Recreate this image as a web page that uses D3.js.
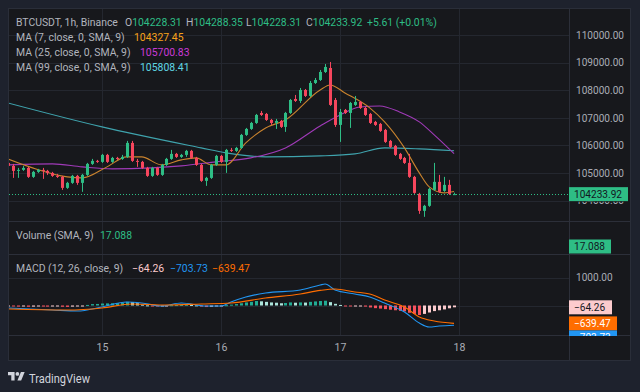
<!DOCTYPE html>
<html><head><meta charset="utf-8">
<script src="https://cdn.jsdelivr.net/npm/d3@7"></script>
<style>html,body{margin:0;padding:0;background:#1e222d;}svg{display:block}</style>
</head><body><svg id="c" width="640" height="392"></svg>
<script>
// ---------- DATA (hourly candles, first candle 2025-05-14 05:00 UTC) ----------
const firstCandle = "2025-05-14T05:00:00Z";
const opens = [105366,105258,105077,105113,105185,104860,105041,105113,105077,105004,104896,104860,104461,104642,104896,104642,104932,105330,105439,
105403,105656,105403,105547,105511,105584,106090,105439,105403,105185,104896,105185,104932,105294,105511,105692,105584,105656,105801,105547,
105294,104715,104823,105294,105620,105403,105837,105801,105909,106380,106597,106814,107176,107140,106923,106814,106887,106670,107176,107683,
107611,108009,107792,108262,108371,108661,108805,107647,106742,107285,107176,107466,107575,107357,107140,106851,106778,106561,106163,105982,
105692,105547,105366,104860,104244,103629,103810,104389,104679,104353,104570,104228.31];
const highs = [105439,105330,105185,105258,105222,105077,105149,105185,105113,105041,104968,104896,104679,104932,104932,104968,105366,105511,105475,
105692,105692,105584,105584,105656,106163,106163,105511,105439,105222,105222,105222,105330,105547,105837,105728,105692,105837,105837,105584,
105330,104860,105330,105656,105656,105873,105909,105946,106416,106633,106851,107140,107249,107176,106959,106959,106923,107213,107683,107828,
108081,108045,108335,108443,108733,108950,109023,107719,107321,107321,107575,107792,107611,107394,107176,106887,106814,106597,106199,106018,
105728,105584,105692,104896,104280,103846,104461,105366,104932,104860,104751,104288.35];
const lows = [105185,104823,104823,105077,104823,104823,105004,104787,104932,104860,104823,104389,104425,104606,104570,104317,104896,105294,105366,
105366,105366,105366,105475,105475,105547,105403,105222,105149,104860,104860,104896,104896,105258,105475,105547,105547,105584,105511,105258,
104679,104534,104787,105258,105366,105004,105763,105763,105873,106344,106561,106778,107068,106887,106742,106597,106633,106489,107140,107575,
107538,107756,107756,108226,108335,108624,107430,106670,106127,107140,106633,107430,107321,107068,106778,106706,106489,106090,105909,105620,
105475,105330,104823,104244,103520,103412,103774,104353,104280,104317,104208,104228.31];
const closes = [105258,105077,105113,105185,104860,105041,105113,105077,105004,104896,104860,104461,104642,104896,104642,104932,105330,105439,105403,
105656,105403,105547,105511,105584,106090,105439,105403,105185,104896,105185,104932,105294,105511,105692,105584,105656,105801,105547,105294,
104715,104823,105294,105620,105403,105837,105801,105909,106380,106597,106814,107104,107104,106923,106814,106887,106670,107176,107647,107611,
108009,107792,108262,108371,108661,108842,107466,106742,107213,107176,107538,107575,107357,107104,106814,106742,106525,106127,105946,105656,
105511,105366,104860,104280,103629,103810,104425,104679,104317,104570,104244,104233.92];

// moving averages: hour offset from 2025-05-15 00:00 UTC, value
const ma7Hours  = [-19,-14,-7,-4,1,5,8,12,16,19,22,25,29,33,37,44,46,49,54,57,61,64,66,69,71];
const ma7Vals   = [105511,105185,104860,104823,105222,105584,105584,105294,105475,105547,105294,105294,106090,106633,106923,108009,108190,107900,107357,106851,105909,105004,104497,104280,104327.45];
const ma25Hours = [-19,-10,-4,2,10,16,23,30,37,44,48,52,56,60,64,67,71];
const ma25Vals  = [105294,105330,105222,105149,105185,105258,105403,105547,105909,106706,107104,107394,107430,107213,106851,106380,105700.83];
const ma99Hours = [-19,0,20,25,33,44,51,57,64,71];
const ma99Vals  = [107538,106670,105909,105728,105584,105620,105692,105909,105873,105808.41];

// MACD
const macdHours = [-19,-10,-5,0,5,8,12,16,21,24,26,29,33,40,44,45,47,51,54,57,61,64,66,68,71];
const macdVals  = [-89,-161,-196,-54,125,89,-18,89,-18,-18,125,304,446,554,732,768,554,411,304,89,-232,-625,-768,-732,-703.73];
const signalHours = [-19,-7,0,6,13,20,26,33,40,44,47,51,54,57,61,64,67,71];
const signalVals  = [-125,-161,-89,54,18,54,89,268,411,540,589,482,411,196,-54,-411,-554,-639.47];
const histVals = [-20,-30,-40,-35,-45,-40,-35,-38,-40,-30,-25,-45,-50,-40,-35,-20,20,50,55,
70,75,80,85,90,130,120,80,30,5,-20,-30,-25,-10,10,15,20,25,20,5,
-40,-55,-45,-25,-15,10,30,50,80,110,130,160,150,130,110,100,80,90,110,100,
110,105,130,145,160,170,120,60,20,-20,-30,-25,-20,-40,-70,-95,-110,-130,-150,-170,
-190,-210,-260,-300,-340,-300,-250,-200,-170,-140,-100,-64.26];

const priceTicks = [104000,105000,106000,107000,108000,109000,110000];
const macdTicks = [0,1000];
const dayTicks = ["2025-05-15","2025-05-16","2025-05-17","2025-05-18"];
const volumeSma = 17.088;
const lastPrice = 104233.92;
const changeText = "+5.61 (+0.01%)";

// ---------- LAYOUT ----------
const W=640,H=392,L=8,T=8,R=631,B=361,AX=569;
const pP=[8,221], pV=[222,254], pM=[255,335];
const FONT="Roboto, 'Noto Sans', sans-serif";
const svg=d3.select("#c");
svg.append("rect").attr("width",W).attr("height",H).attr("fill","#1e222d");
svg.append("rect").attr("x",L+0.5).attr("y",T+0.5).attr("width",R-L-1).attr("height",B-T-1)
  .attr("fill","#17181c").attr("stroke","#2a2e39");

// font fitting helper (measures a sample string to match the reference width)
function fitSize(sample,target){
  const t=svg.append("text").attr("font-family",FONT).attr("font-size",20).text(sample);
  const w=t.node().getComputedTextLength(); t.remove(); return 20*target/w;
}
const FS_LEG=fitSize("BTCUSDT, 1h, Binance",102);
const FS_AX=fitSize("110000.00",48);

const t0=new Date(firstCandle).getTime();
const times=opens.map((d,i)=>new Date(t0+i*3600e3));
const days=dayTicks.map(s=>new Date(s+"T00:00:00Z"));
const x=d3.scaleUtc().domain([days[0],days[3]]).range([102,459]);
const hourDate=h=>new Date(days[0].getTime()+h*3600e3);
const y=d3.scaleLinear().domain([104000,110000]).range([200.6,35]);
const ym=d3.scaleLinear().domain([0,1000]).range([305.5,277.5]);

const defs=svg.append("defs");
defs.append("clipPath").attr("id","cp").append("rect").attr("x",L+1).attr("y",pP[0]).attr("width",AX-L-1).attr("height",pP[1]-pP[0]);
defs.append("clipPath").attr("id","cm").append("rect").attr("x",L+1).attr("y",pM[0]).attr("width",AX-L-1).attr("height",pM[1]-pM[0]);
defs.append("clipPath").attr("id","cax").append("rect").attr("x",AX).attr("y",pM[0]).attr("width",R-AX).attr("height",pM[1]-pM[0]+1);
defs.append("clipPath").attr("id","cpa").append("rect").attr("x",AX).attr("y",pP[0]).attr("width",R-AX).attr("height",pP[1]-pP[0]);

const grid="#24272f", sep="#2c2f39";
svg.append("g").selectAll("line").data(days).join("line")
  .attr("x1",d=>Math.round(x(d))+0.5).attr("x2",d=>Math.round(x(d))+0.5)
  .attr("y1",T+1).attr("y2",pM[1]).attr("stroke",grid);
svg.append("g").selectAll("line").data(priceTicks).join("line")
  .attr("x1",L+1).attr("x2",AX).attr("y1",d=>Math.round(y(d))+0.5).attr("y2",d=>Math.round(y(d))+0.5).attr("stroke",grid);
svg.append("g").selectAll("line").data(macdTicks).join("line")
  .attr("x1",L+1).attr("x2",AX).attr("y1",d=>Math.round(ym(d))+0.5).attr("y2",d=>Math.round(ym(d))+0.5).attr("stroke",grid);
[pP[1]+0.5,pV[1]+0.5,pM[1]+0.5].forEach(v=>svg.append("line").attr("x1",L+1).attr("x2",R-1).attr("y1",v).attr("y2",v).attr("stroke",sep));
svg.append("line").attr("x1",AX+0.5).attr("x2",AX+0.5).attr("y1",T+1).attr("y2",B-1).attr("stroke",sep);

// ---------- MA lines ----------
const gP=svg.append("g").attr("clip-path","url(#cp)");
const mkLine=(hs,vs)=>d3.line().curve(d3.curveMonotoneX).x((d,i)=>x(hourDate(hs[i]))).y(d=>y(d))(vs);
gP.append("path").attr("d",mkLine(ma99Hours,ma99Vals)).attr("fill","none").attr("stroke","#3fa3ad").attr("stroke-width",1.1);
gP.append("path").attr("d",mkLine(ma25Hours,ma25Vals)).attr("fill","none").attr("stroke","#a03ab8").attr("stroke-width",1.1);
gP.append("path").attr("d",mkLine(ma7Hours,ma7Vals)).attr("fill","none").attr("stroke","#c9832e").attr("stroke-width",1.1);

// ---------- candles ----------
const UP="#2ebd85", DN="#f6465d";
const cs=gP.append("g").selectAll("g").data(times).join("g");
cs.append("line").attr("x1",d=>Math.round(x(d))+0.5).attr("x2",d=>Math.round(x(d))+0.5)
  .attr("y1",(d,i)=>y(highs[i])).attr("y2",(d,i)=>y(lows[i]))
  .attr("stroke",(d,i)=>closes[i]>=opens[i]?UP:DN);
cs.append("rect").attr("x",d=>Math.round(x(d))-1).attr("width",3)
  .attr("y",(d,i)=>y(Math.max(opens[i],closes[i])))
  .attr("height",(d,i)=>Math.max(1,Math.abs(y(opens[i])-y(closes[i]))))
  .attr("fill",(d,i)=>closes[i]>=opens[i]?UP:DN);

svg.append("line").attr("x1",L+1).attr("x2",AX).attr("y1",Math.round(y(lastPrice))+0.5).attr("y2",Math.round(y(lastPrice))+0.5)
  .attr("stroke",UP).attr("stroke-dasharray","1,2");

// ---------- MACD ----------
const gM=svg.append("g").attr("clip-path","url(#cm)");
gM.selectAll("rect").data(histVals).join("rect")
  .attr("x",(d,i)=>Math.round(x(times[i]))-1).attr("width",3)
  .attr("y",d=>Math.min(ym(d),ym(0))).attr("height",d=>Math.max(1,Math.abs(ym(d)-ym(0))))
  .attr("fill",(d,i)=>{const p=i>0?histVals[i-1]:d; return d>=0?(d>=p?"#22ab94":"#ace5dc"):(d<p?"#f7525f":"#fccbcd");});
const mkM=(hs,vs)=>d3.line().curve(d3.curveMonotoneX).x((d,i)=>x(hourDate(hs[i]))).y(d=>ym(d))(vs);
gM.append("path").attr("d",mkM(macdHours,macdVals)).attr("fill","none").attr("stroke","#2196f3").attr("stroke-width",1.1);
gM.append("path").attr("d",mkM(signalHours,signalVals)).attr("fill","none").attr("stroke","#ff6d00").attr("stroke-width",1.1);

// ---------- axes ----------
const axCol="#a9acb5";
const lastY=y(lastPrice);
const pa=svg.append("g").attr("transform",`translate(${AX},0)`)
  .call(d3.axisRight(y).tickValues(priceTicks).tickSize(0).tickPadding(7).tickFormat(d3.format(".2f")));
pa.select(".domain").remove();
pa.selectAll("text").attr("fill",axCol).attr("font-size",FS_AX).attr("font-family",FONT);
// label partly hidden behind the last-price box: keep only its visible lower part
pa.selectAll(".tick").filter(d=>Math.abs(y(d)-lastY)<12).attr("clip-path","url(#clow)");
defs.append("clipPath").attr("id","clow").append("rect").attr("x",-5).attr("y",lastY+7-y(104000)).attr("width",70).attr("height",20);
const ma=svg.append("g").attr("transform",`translate(${AX},0)`)
  .call(d3.axisRight(ym).tickValues([1000]).tickSize(0).tickPadding(7).tickFormat(d3.format(".2f")));
ma.select(".domain").remove();
ma.selectAll("text").attr("fill",axCol).attr("font-size",FS_AX).attr("font-family",FONT);
const ta=svg.append("g").attr("transform",`translate(0,341)`)
  .call(d3.axisBottom(x).tickValues(days).tickSize(0).tickPadding(2).tickFormat(d3.utcFormat("%-d")));
ta.select(".domain").remove();
ta.selectAll("text").attr("fill",axCol).attr("font-size",FS_AX*1.05).attr("font-family",FONT);

function box(g,yc,w,bg,fg,txt){
  g.append("rect").attr("x",AX).attr("y",yc-7).attr("width",w).attr("height",14).attr("fill",bg);
  g.append("text").attr("x",AX+5).attr("y",yc).attr("dy","0.35em").attr("fill",fg).attr("font-size",FS_AX).attr("font-family",FONT).text(txt);
}
box(svg,lastY,59,UP,"#131722",d3.format(".2f")(lastPrice));
box(svg,246.5,42,UP,"#131722",d3.format(".3f")(volumeSma));
const gb=svg.append("g").attr("clip-path","url(#cax)");
const hl=histVals[histVals.length-1], ml=macdVals[macdVals.length-1], sl=signalVals[signalVals.length-1];
const fm=v=>d3.format(".2f")(v).replace("-","\u2212");
box(gb,ym(hl),43,"#fccbcd","#131722",fm(hl));
const ys=ym(sl); box(gb,ys,48,"#ff6d00","#ffffff",fm(sl));
box(gb,Math.max(ym(ml),ys+14),48,"#2196f3","#ffffff",fm(ml));

// ---------- legends ----------
const LG="#b2b5be";
function txt(xp,yp,s,col){return svg.append("text").attr("x",xp).attr("y",yp).attr("dy","0.35em").attr("fill",col).attr("font-size",FS_LEG).attr("font-family",FONT).text(s);}
txt(16,22,"BTCUSDT, 1h, Binance",LG);
const f2=d3.format(".2f");
[[125,"O",opens],[186,"H",highs],[246,"L",lows],[306,"C",closes]].forEach(([xp,k,arr])=>{
  const t=txt(xp,22,"",LG); t.append("tspan").text(k); t.append("tspan").attr("fill",UP).text(f2(arr[arr.length-1]));
});
txt(367,22,changeText,UP);
txt(16,37,"MA (7, close, 0, SMA, 9)",LG); txt(134,37,f2(ma7Vals[ma7Vals.length-1]),"#f7a21b");
txt(16,52,"MA (25, close, 0, SMA, 9)",LG); txt(140,52,f2(ma25Vals[ma25Vals.length-1]),"#c93ad6");
txt(16,67,"MA (99, close, 0, SMA, 9)",LG); txt(140,67,f2(ma99Vals[ma99Vals.length-1]),"#5fd6e3");
txt(16,235,"Volume (SMA, 9)",LG); txt(100,235,d3.format(".3f")(volumeSma),UP);
txt(16,268,"MACD (12, 26, close, 9)",LG);
txt(132,268,fm(hl),"#fccbcd"); txt(170,268,fm(ml),"#2196f3"); txt(212,268,fm(sl),"#ff6d00");

// ---------- TradingView logo ----------
const lg=svg.append("g").attr("transform","translate(8,370.2) scale(0.47)").attr("fill","#d1d4dc");
lg.append("path").attr("d","M14 22H7V11H0V4h14v18zM28 22h-8l7.5-18h8L28 22z");
lg.append("circle").attr("cx",20).attr("cy",8).attr("r",4);
svg.append("text").attr("x",29).attr("y",378).attr("dy","0.35em").attr("fill","#d1d4dc").attr("font-size",13)
  .attr("font-family",FONT).attr("textLength",61).attr("lengthAdjust","spacingAndGlyphs").text("TradingView");
</script></body></html>
